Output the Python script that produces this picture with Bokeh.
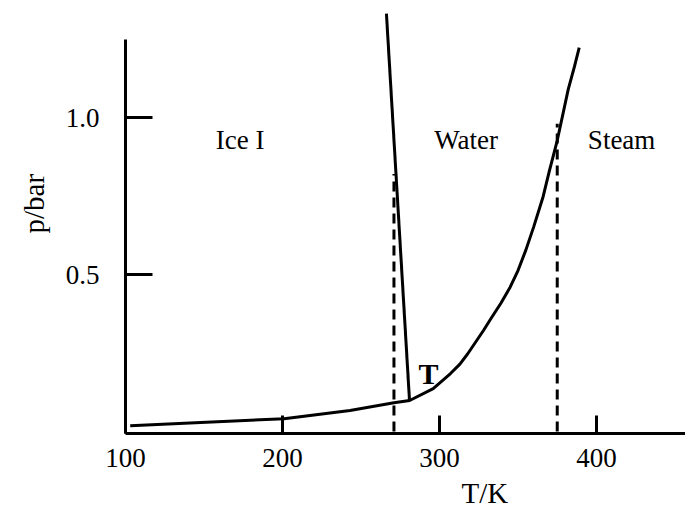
from bokeh.plotting import figure
from bokeh.models import FixedTicker, Label, Range1d, Title, PrintfTickFormatter
from bokeh.embed import file_html
from bokeh.resources import INLINE

# Vaporization / sublimation curve, T in K, p in bar
vap_T = [103, 148, 201, 243, 271, 281, 296, 307, 313, 318, 328, 333, 339, 345, 350, 355,
         360, 366, 370, 375, 382, 386, 389]
vap_p = [0.019, 0.029, 0.041, 0.067, 0.092, 0.099, 0.137, 0.185, 0.215, 0.248, 0.322,
         0.362, 0.408, 0.460, 0.513, 0.578, 0.652, 0.748, 0.830, 0.927, 1.090, 1.163, 1.223]

# Melting line
melt_T = [266.2, 280.9]
melt_p = [1.331, 0.099]

# Dashed markers: normal melting and boiling points
dash_T = [271, 375]
dash_top = [0.82, 0.98]

x_ticks = [100, 200, 300, 400]
y_ticks = [0.5, 1.0]

regions = ["Ice I", "Water", "Steam"]
region_T = [173, 317, 416]
region_p = [0.93, 0.93, 0.93]

FONT = "Liberation Serif"

p = figure(width=685, height=514, output_backend="svg", toolbar_location=None,
           x_range=Range1d(100, 456.7), y_range=Range1d(-0.006, 1.341),
           min_border_left=125, min_border_right=0, min_border_top=10, min_border_bottom=81)
p.grid.visible = False
p.outline_line_color = None
p.background_fill_color = "white"
p.border_fill_color = "white"

p.line(vap_T, vap_p, line_color="black", line_width=3, line_join="round")
p.line(melt_T, melt_p, line_color="black", line_width=3)
p.segment(x0=dash_T, y0=[0, 0], x1=dash_T, y1=dash_top, line_color="black",
          line_width=3, line_dash="10 6")

for name, tx, ty in zip(regions, region_T, region_p):
    p.add_layout(Label(x=tx, y=ty, text=name, text_font=FONT, text_font_size="27px",
                       text_align="center", text_baseline="middle", text_color="black"))

p.add_layout(Label(x=293, y=0.185, text="T", text_font=FONT, text_font_size="30px",
                   text_font_style="bold", text_align="center", text_baseline="middle",
                   text_color="black"))

# Axis titles
p.add_layout(Title(text="T/K", align="left", offset=336, text_font=FONT,
                   text_font_size="29px", text_font_style="normal", text_color="black"),
             "below")
p.add_layout(Title(text="p/bar", align="left", offset=200, standoff=26, text_font=FONT,
                   text_font_size="29px", text_font_style="normal", text_color="black"),
             "left")

xa = p.xaxis[0]
xa.ticker = FixedTicker(ticks=x_ticks)
xa.minor_tick_line_color = None
xa.major_tick_in = 18
xa.major_tick_out = 0
xa.major_tick_line_width = 3
xa.axis_line_width = 3
xa.major_label_text_font = FONT
xa.major_label_text_font_size = "27px"
xa.major_label_text_color = "black"
xa.major_label_standoff = 15

ya = p.yaxis[0]
ya.ticker = FixedTicker(ticks=y_ticks)
ya.formatter = PrintfTickFormatter(format="%.1f")
ya.bounds = (-0.006, 1.25)
ya.minor_tick_line_color = None
ya.major_tick_in = 27
ya.major_tick_out = 0
ya.major_tick_line_width = 3
ya.axis_line_width = 3
ya.major_label_text_font = FONT
ya.major_label_text_font_size = "27px"
ya.major_label_text_color = "black"
ya.major_label_standoff = 26
ya.major_label_orientation = "horizontal"

open("out.html", "w").write(file_html(p, INLINE))
